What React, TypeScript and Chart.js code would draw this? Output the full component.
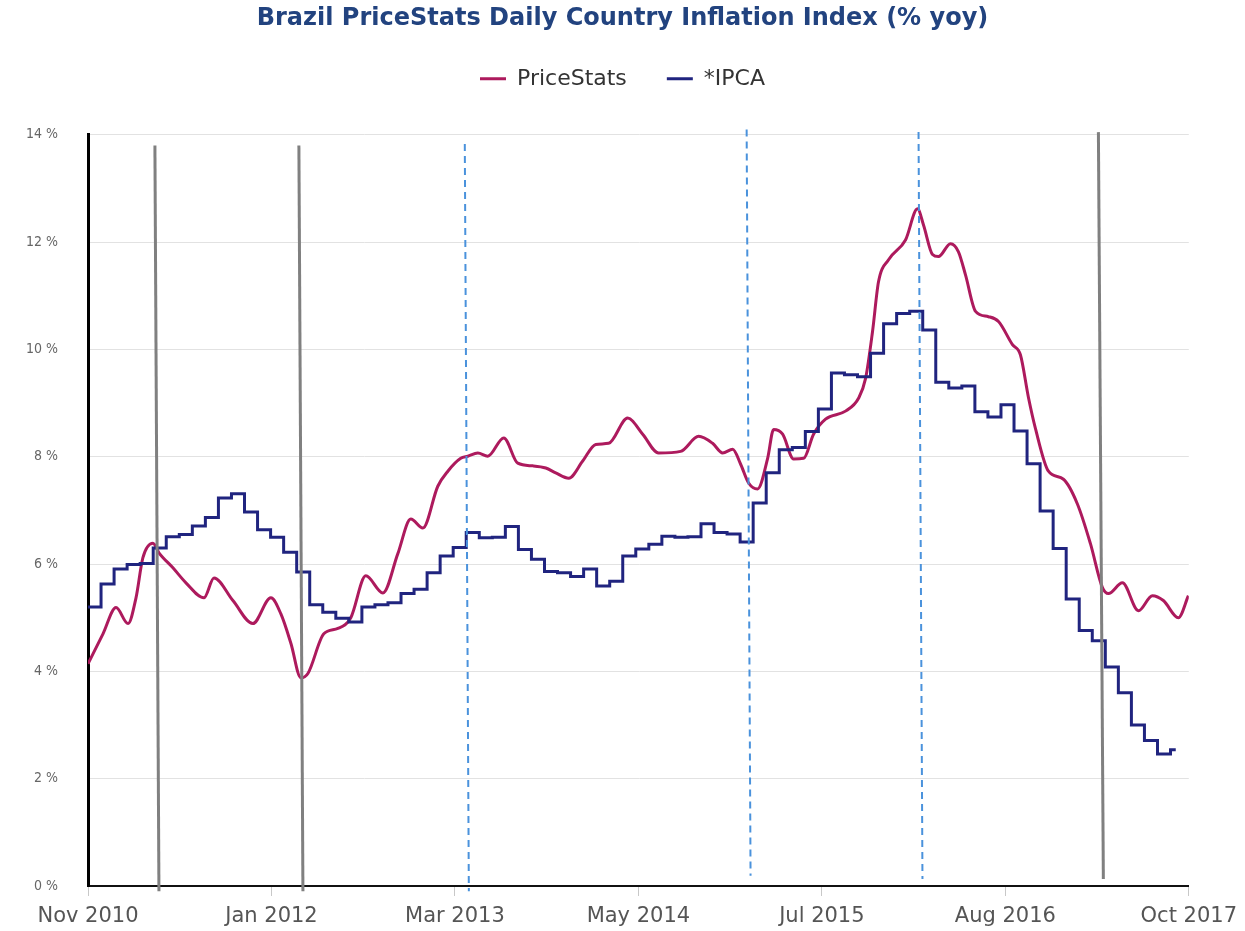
import { useEffect, useRef } from 'react';
import { Chart, registerables } from 'chart.js';

Chart.register(...registerables);

const chartTitle = 'Brazil PriceStats Daily Country Inflation Index (% yoy)';
const seriesNames = ['PriceStats', '*IPCA'];

// x unit: months since 1 Nov 2010
const xTickLabels = ['Nov 2010', 'Jan 2012', 'Mar 2013', 'May 2014', 'Jul 2015', 'Aug 2016', 'Oct 2017'];
const xAxisEndMonth = 84.4;
const yMin = 0;
const yMax = 14;
const yStep = 2;

// PriceStats daily index (% yoy)
const psMonths = [
  0, 1.15, 2.15, 3.07, 3.68, 4.21, 4.98, 5.44, 6.51, 7.51, 8.89, 9.66, 11.11, 12.64, 14.02,
  14.79, 15.56, 16.32, 16.86, 18.08, 19.16, 20.15, 21.3, 22.61, 23.75, 24.75, 25.67, 26.82, 27.59, 28.58,
  29.12, 29.89, 30.65, 31.88, 32.95, 34.1, 35.1, 35.86, 36.86, 37.93, 38.93, 39.92, 41.38, 42.53,
  43.75, 45.44, 46.82, 47.89, 48.66, 49.43, 50.04, 50.65, 51.34, 52.11, 52.57, 53.26, 54.1, 54.87,
  55.63, 56.55, 58.08, 59.08, 59.62, 60.15, 60.61, 61.38, 62.68, 63.6, 64.06, 64.75, 65.21, 66.13,
  66.74, 67.28, 68.05, 69.04, 69.81, 70.88, 71.49, 72.11, 72.64, 73.64, 74.79, 75.86, 76.86, 77.78,
  78.24, 79.31, 80.54, 81.61, 82.45, 83.6, 84.37,
];
const psValues = [
  4.14, 4.7, 5.19, 4.89, 5.37, 6.12, 6.39, 6.21, 5.93, 5.65, 5.37, 5.74, 5.32, 4.89, 5.37,
  5.07, 4.52, 3.88, 3.96, 4.7, 4.8, 5.0, 5.78, 5.46, 6.19, 6.84, 6.67, 7.45, 7.73, 7.97,
  8.01, 8.07, 8.01, 8.35, 7.88, 7.83, 7.79, 7.7, 7.6, 7.92, 8.23, 8.25, 8.72, 8.42,
  8.07, 8.1, 8.38, 8.25, 8.07, 8.14, 7.86, 7.51, 7.4, 7.97, 8.51, 8.42, 7.96, 7.97,
  8.42, 8.7, 8.85, 9.09, 9.46, 10.33, 11.26, 11.67, 12.04, 12.62, 12.32, 11.77, 11.73, 11.97,
  11.82, 11.39, 10.71, 10.61, 10.52, 10.09, 9.9, 9.1, 8.53, 7.73, 7.58, 7.12, 6.38, 5.56,
  5.45, 5.65, 5.13, 5.41, 5.32, 5.0, 5.41,
];

// *IPCA monthly (% yoy); value k is shown from month k onward
const ipcaValues = [
  5.2, 5.63, 5.91, 5.99, 6.01, 6.3, 6.51, 6.55, 6.71, 6.87, 7.23, 7.31, 6.97, 6.64, 6.5, 6.22,
  5.85, 5.24, 5.1, 4.99, 4.92, 5.2, 5.24, 5.28, 5.45, 5.53, 5.84, 6.15, 6.31, 6.59, 6.49, 6.5,
  6.7, 6.27, 6.09, 5.86, 5.84, 5.77, 5.91, 5.59, 5.68, 6.15, 6.28, 6.37, 6.52, 6.5, 6.51, 6.75,
  6.59, 6.56, 6.41, 7.14, 7.7, 8.13, 8.17, 8.47, 8.89, 9.56, 9.53, 9.49, 9.93, 10.48, 10.67, 10.71,
  10.36, 9.39, 9.28, 9.32, 8.84, 8.74, 8.97, 8.48, 7.87, 6.99, 6.29, 5.35, 4.76, 4.57, 4.08, 3.6,
  3.0, 2.71, 2.46, 2.54,
];
const ipcaEndMonth = 83.4;

// hand-drawn vertical markers: [month at top, month at bottom, value at top, value at bottom]
const solidMarkers = [
  [5.13, 5.44, 13.8, -0.1],
  [16.17, 16.48, 13.8, -0.1],
  [77.47, 77.85, 14.05, 0.13],
];
const dashedMarkers = [
  [28.89, 29.2, 13.83, -0.1],
  [50.5, 50.8, 14.1, 0.19],
  [63.68, 63.98, 14.05, 0.13],
];

const legendSpacer = {
  id: 'legendSpacer',
  beforeLayout(chart: any) {
    const lg = chart.legend;
    if (lg && !lg._spaced) {
      const f = lg.fit;
      lg.fit = function () {
        f.call(this);
        this.height += 35;
      };
      lg._spaced = true;
    }
  },
};

export default function App() {
  const ref = useRef<HTMLCanvasElement>(null);
  useEffect(() => {
    if (!ref.current) return;
    const ipcaPoints = ipcaValues.map((v, i) => ({ x: i, y: v }));
    ipcaPoints.push({ x: ipcaEndMonth, y: ipcaValues[ipcaValues.length - 1] });
    const psPoints = psMonths.map((m, i) => ({ x: m, y: psValues[i] }));

    const markerSets: any[] = [
      ...solidMarkers.map((m) => ({
        data: [{ x: m[0], y: m[2] }, { x: m[1], y: m[3] }],
        borderColor: '#808080',
        borderWidth: 3,
        pointRadius: 0,
        clip: false,
        order: 0,
      })),
      ...dashedMarkers.map((m) => ({
        data: [{ x: m[0], y: m[2] }, { x: m[1], y: m[3] }],
        borderColor: '#4a92dc',
        borderWidth: 2,
        borderDash: [7, 5],
        pointRadius: 0,
        clip: false,
        order: 0,
      })),
    ];

    const chart = new Chart(ref.current, {
      type: 'line',
      data: {
        datasets: [
          {
            label: seriesNames[0],
            data: psPoints,
            borderColor: '#ad1a5d',
            backgroundColor: '#ad1a5d',
            borderWidth: 3,
            pointRadius: 0,
            cubicInterpolationMode: 'monotone',
            order: 2,
          },
          {
            label: seriesNames[1],
            data: ipcaPoints,
            borderColor: '#20247f',
            backgroundColor: '#20247f',
            borderWidth: 3,
            pointRadius: 0,
            stepped: true,
            order: 1,
          },
          ...markerSets,
        ],
      },
      options: {
        animation: false,
        responsive: true,
        maintainAspectRatio: false,
        layout: { padding: { left: 0, right: 0, top: 0, bottom: 0 } },
        plugins: {
          title: {
            display: true,
            text: chartTitle,
            color: '#22437f',
            font: { family: 'DejaVu Sans', size: 24, weight: 'bold' },
            padding: { top: 4, bottom: -5 },
          },
          legend: {
            display: true,
            labels: {
              usePointStyle: true,
              pointStyle: 'line',
              pointStyleWidth: 26,
              padding: 40,
              color: '#333333',
              font: { family: 'DejaVu Sans', size: 22 },
              filter: (item: any) => !!item.text,
              sort: (a: any, b: any) => a.datasetIndex - b.datasetIndex,
            },
          },
          tooltip: { enabled: false },
        },
        scales: {
          x: {
            type: 'linear',
            min: 0,
            max: xAxisEndMonth,
            afterFit: (s: any) => {
              s.height = 45;
            },
            afterBuildTicks: (s: any) => {
              s.ticks = xTickLabels.map((_, i) => ({ value: (i * xAxisEndMonth) / (xTickLabels.length - 1) }));
            },
            ticks: {
              autoSkip: false,
              maxRotation: 0,
              padding: 8,
              color: '#555555',
              font: { family: 'DejaVu Sans', size: 21 },
              callback: (_v: any, i: number) => xTickLabels[i],
            },
            grid: { drawOnChartArea: false, drawTicks: true, tickLength: 10, color: '#c8c8c8' },
            border: { display: true, color: '#111111', width: 2 },
          },
          y: {
            min: yMin,
            max: yMax,
            afterFit: (s: any) => {
              s.width = 88;
            },
            ticks: {
              stepSize: yStep,
              padding: 30,
              color: '#666666',
              font: { family: 'DejaVu Sans Condensed', size: 14 },
              callback: (v: any) => `${v} %`,
            },
            grid: { color: '#e2e2e2', lineWidth: 1, drawTicks: false },
            border: { display: true, color: '#000000', width: 3 },
          },
          ySpacer: {
            type: 'linear',
            position: 'right',
            display: true,
            afterFit: (s: any) => {
              s.width = 55;
            },
            ticks: { display: false },
            grid: { display: false, drawOnChartArea: false },
            border: { display: false },
          },
        },
      },
      plugins: [legendSpacer],
    } as any);
    return () => chart.destroy();
  }, []);

  return (
    <div style={{ position: 'absolute', left: 0, top: 0, width: 1245, height: 931, background: '#ffffff' }}>
      <canvas ref={ref} />
    </div>
  );
}
